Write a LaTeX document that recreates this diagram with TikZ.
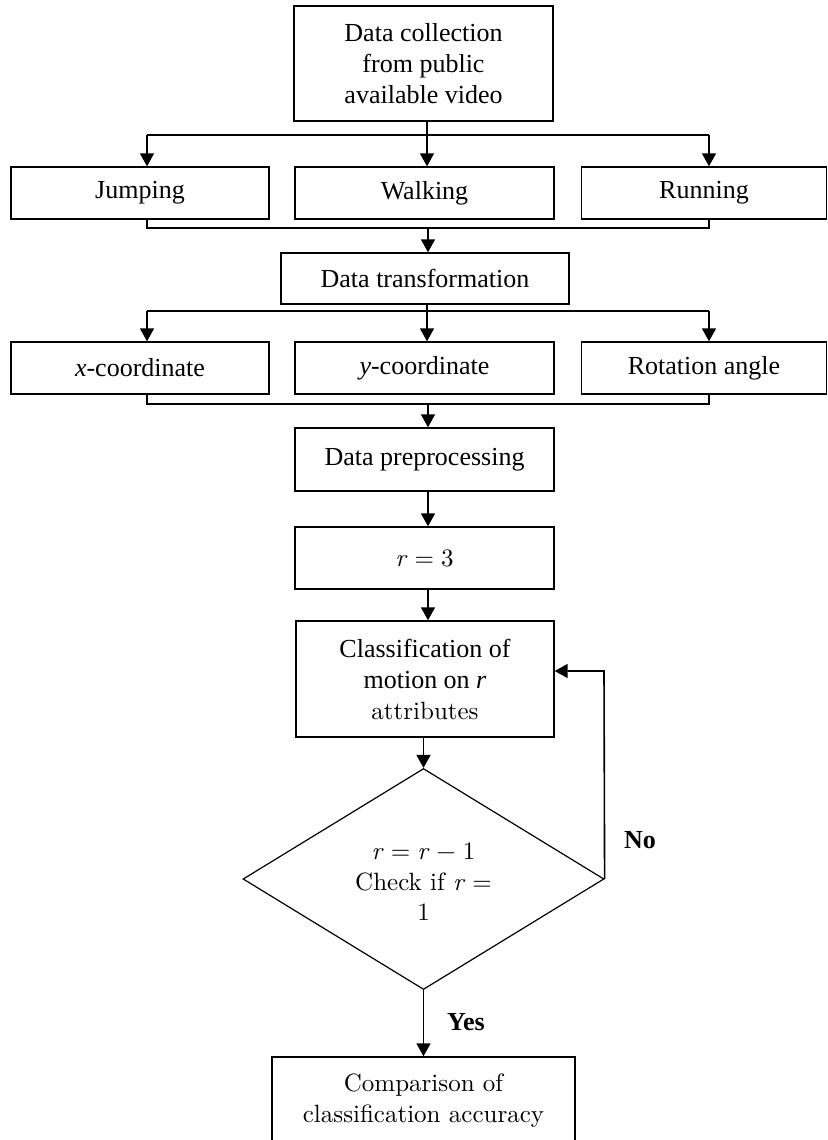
\documentclass[tikz,border=0pt]{standalone}
\usepackage{fontspec}
\newfontfamily\tnr{Liberation Serif}
\newfontfamily\lmten{lmroman10-regular.otf}[ItalicFont=lmroman10-italic.otf]
\newcommand{\rv}{\textit{r}}
\newcommand{\eqs}[1]{\hspace{0.28em}#1\hspace{0.28em}}
\usetikzlibrary{arrows.meta,shapes.geometric}
\begin{document}
\begin{tikzpicture}[x=1pt,y=-1pt,
  box/.style={draw, line width=1.4pt, inner sep=0pt, align=center, font=\tnr\fontsize{26}{31}\selectfont},
  lmbox/.style={draw, line width=1.4pt, inner sep=0pt, align=center, font=\lmten\fontsize{25}{31}\selectfont},
  arr/.style={line width=1.6pt, -{Triangle[length=13pt,width=14pt]}},
  ln/.style={line width=1.6pt},
  lbl/.style={inner sep=0pt, font=\tnr\bfseries\fontsize{26}{31}\selectfont}]
\useasboundingbox (0,0) rectangle (827,1140);
\clip (0,0) rectangle (827,1140);
% nodes
\node[box, minimum width=259pt, minimum height=115pt] (top) at (423.5,63.5) {Data collection\\from public\\available video};
\node[box, minimum width=258pt, minimum height=52pt] (jump) at (140,193) {Jumping};
\node[box, minimum width=259pt, minimum height=52pt] (walk) at (424.5,193) {Walking};
\node[box, minimum width=245pt, minimum height=52pt] (run) at (704,193) {Running};
\node[box, minimum width=288pt, minimum height=51pt] (dt) at (425,278.5) {Data transformation};
\node[box, minimum width=258pt, minimum height=52pt] (xc) at (140,368) {\textit{x}-coordinate};
\node[box, minimum width=259pt, minimum height=52pt] (yc) at (424.5,368) {\textit{y}-coordinate};
\node[box, minimum width=245pt, minimum height=52pt] (rot) at (704,368) {Rotation angle};
\node[box, minimum width=259pt, minimum height=63pt] (dp) at (424.5,459.5) {Data preprocessing};
\node[lmbox, minimum width=259pt, minimum height=62pt] (r3) at (424.5,558) {\rv\eqs{=}3};
\node[box, minimum width=258pt, minimum height=116pt] (cls) at (425,679) {Classification of\\motion on \textit{r}\\{\lmten\fontsize{25}{31}\selectfont attributes}};
\node[draw, diamond, line width=1.2pt, inner sep=0pt, minimum width=361pt, minimum height=221pt] (dia) at (423.5,879) {};
\node[inner sep=0pt, align=center, font=\lmten\fontsize{25}{30.5}\selectfont] (dtext) at (423.5,882) {\rv\eqs{=}\rv\eqs{\char"2212}1\\Check if \rv\eqs{=}\\1};
\node[lmbox, minimum width=303pt, minimum height=88pt] (cmp) at (423.5,1101) {Comparison of\\classification accuracy};
% first split
\coordinate (s1) at (427,135);
\coordinate (l1) at (147,135);
\coordinate (r1) at (709,135);
\draw[ln] (top.south -| s1) -- (s1);
\draw[ln] (l1) -- (r1);
\draw[arr] (s1) -- (s1 |- walk.north);
\draw[arr] (l1) -- (l1 |- jump.north);
\draw[arr] (r1) -- (r1 |- run.north);
% first merge
\coordinate (m1) at (428,228);
\draw[ln] (jump.south -| l1) |- (m1) -| (run.south -| r1);
\draw[arr] (m1) -- (m1 |- dt.north);
% second split
\coordinate (s2) at (427,311);
\coordinate (l2) at (147,311);
\coordinate (r2) at (709,311);
\draw[ln] (dt.south -| s2) -- (s2);
\draw[ln] (l2) -- (r2);
\draw[arr] (s2) -- (s2 |- yc.north);
\draw[arr] (l2) -- (l2 |- xc.north);
\draw[arr] (r2) -- (r2 |- rot.north);
% second merge
\coordinate (m2) at (428,404);
\draw[ln] (xc.south -| l2) |- (m2) -| (rot.south -| r2);
\draw[arr] (m2) -- (m2 |- dp.north);
% chain
\draw[arr] (dp.south -| m2) -- (r3.north -| m2);
\draw[arr] (r3.south -| m2) -- (cls.north -| m2);
\draw[arr] (cls.south -| dia.north) -- (dia.north);
% loop back
\coordinate (fb) at (604,671);
\draw[arr] (dia.east) -- (fb) -- (cls.east |- fb);
\node[lbl] (no) at (640,840) {No};
% yes
\draw[arr] (dia.south) -- (cmp.north);
\node[lbl] (yes) at (466,1022) {Yes};
\end{tikzpicture}
\end{document}
